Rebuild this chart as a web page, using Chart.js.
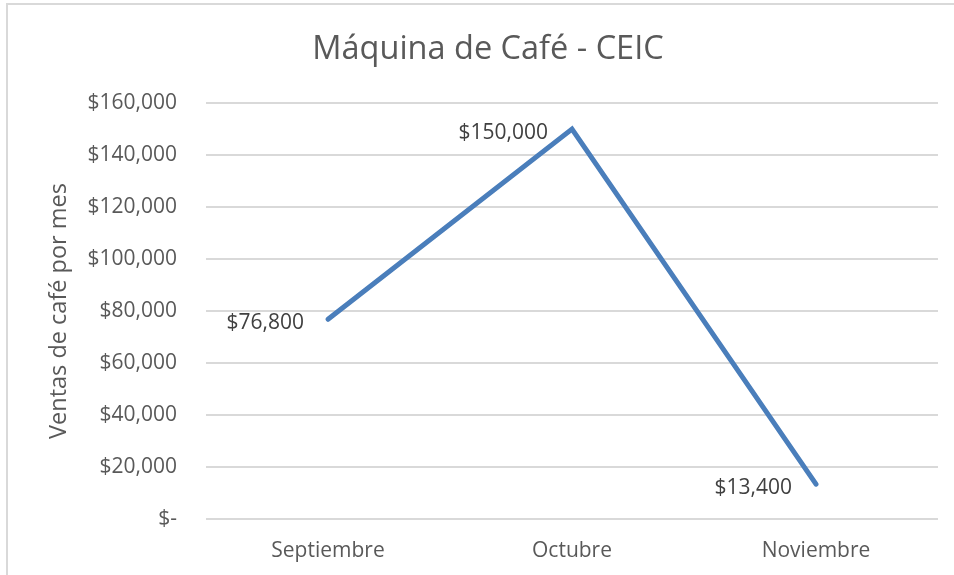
<!DOCTYPE html>
<html>
<head>
<meta charset="utf-8">
<script src="https://cdn.jsdelivr.net/npm/chart.js@4/dist/chart.umd.min.js"></script>
<style>
  html, body { margin: 0; padding: 0; background: #fff; }
  #wrap { width: 954px; height: 575px; }
</style>
</head>
<body>
<div id="wrap"><canvas id="chart" width="954" height="575"></canvas></div>
<script>
const chartTitle = "Máquina de Café - CEIC";
const months = ["Septiembre", "Octubre", "Noviembre"];
const ventas = [76800, 150000, 13400];
const yTicks = [0, 20000, 40000, 60000, 80000, 100000, 120000, 140000, 160000];

const fontFamily = "'Open Sans', 'Noto Sans', sans-serif";
const textGray = "#595959";

function money(v) {
  if (v === 0) return "$-";
  return "$" + v.toLocaleString("en-US");
}

// light frame like the office chart box, plus the title
const frame = {
  id: "frame",
  beforeDraw(chart) {
    const ctx = chart.ctx;
    ctx.save();
    ctx.fillStyle = "#fff";
    ctx.fillRect(0, 0, chart.width, chart.height);
    ctx.strokeStyle = "#d9d9d9";
    ctx.lineWidth = 2;
    ctx.strokeRect(7, 4, chart.width + 20, chart.height + 20);
    ctx.font = "32.5px " + fontFamily;
    ctx.fillStyle = textGray;
    ctx.textAlign = "center";
    ctx.textBaseline = "middle";
    ctx.fillText(chartTitle, 488, 50);
    ctx.restore();
  }
};

// value labels to the left of every point
const valueLabels = {
  id: "valueLabels",
  afterDatasetsDraw(chart) {
    const ctx = chart.ctx;
    const meta = chart.getDatasetMeta(0);
    ctx.save();
    ctx.font = "21px " + fontFamily;
    ctx.fillStyle = "#404040";
    ctx.textAlign = "right";
    ctx.textBaseline = "middle";
    meta.data.forEach((pt, i) => {
      ctx.fillText(money(ventas[i]), pt.x - 24, pt.y + 4);
    });
    ctx.restore();
  }
};

new Chart(document.getElementById("chart"), {
  type: "line",
  data: {
    labels: months,
    datasets: [{
      data: ventas,
      borderColor: "#4a7ebb",
      borderWidth: 5,
      borderCapStyle: "round",
      borderJoinStyle: "miter",
      pointRadius: 0,
      tension: 0
    }]
  },
  options: {
    responsive: false,
    animation: false,
    layout: { padding: { left: 8, right: 16, top: 103, bottom: 8 } },
    plugins: {
      legend: { display: false },
      tooltip: { enabled: false },
      title: { display: false }
    },
    scales: {
      x: {
        offset: true,
        grid: { display: false, drawTicks: false },
        border: { display: false },
        ticks: {
          color: textGray,
          font: { family: fontFamily, size: 21 },
          padding: 19
        },
        afterFit(scale) { scale.height = 48; }
      },
      y: {
        min: 0,
        max: 160000,
        afterBuildTicks(scale) {
          scale.ticks = yTicks.map(v => ({ value: v }));
        },
        grid: { color: "#d9d9d9", lineWidth: 2, drawTicks: false },
        border: { display: false },
        ticks: {
          color: textGray,
          font: { family: fontFamily, size: 21 },
          padding: 29,
          callback: v => money(v)
        },
        title: {
          display: true,
          text: "Ventas de café por mes",
          color: textGray,
          font: { family: fontFamily, size: 23.5, weight: "normal" },
          padding: { top: 37, bottom: 0 }
        },
        afterFit(scale) { scale.width = 198; }
      }
    }
  },
  plugins: [frame, valueLabels]
});
</script>
</body>
</html>
